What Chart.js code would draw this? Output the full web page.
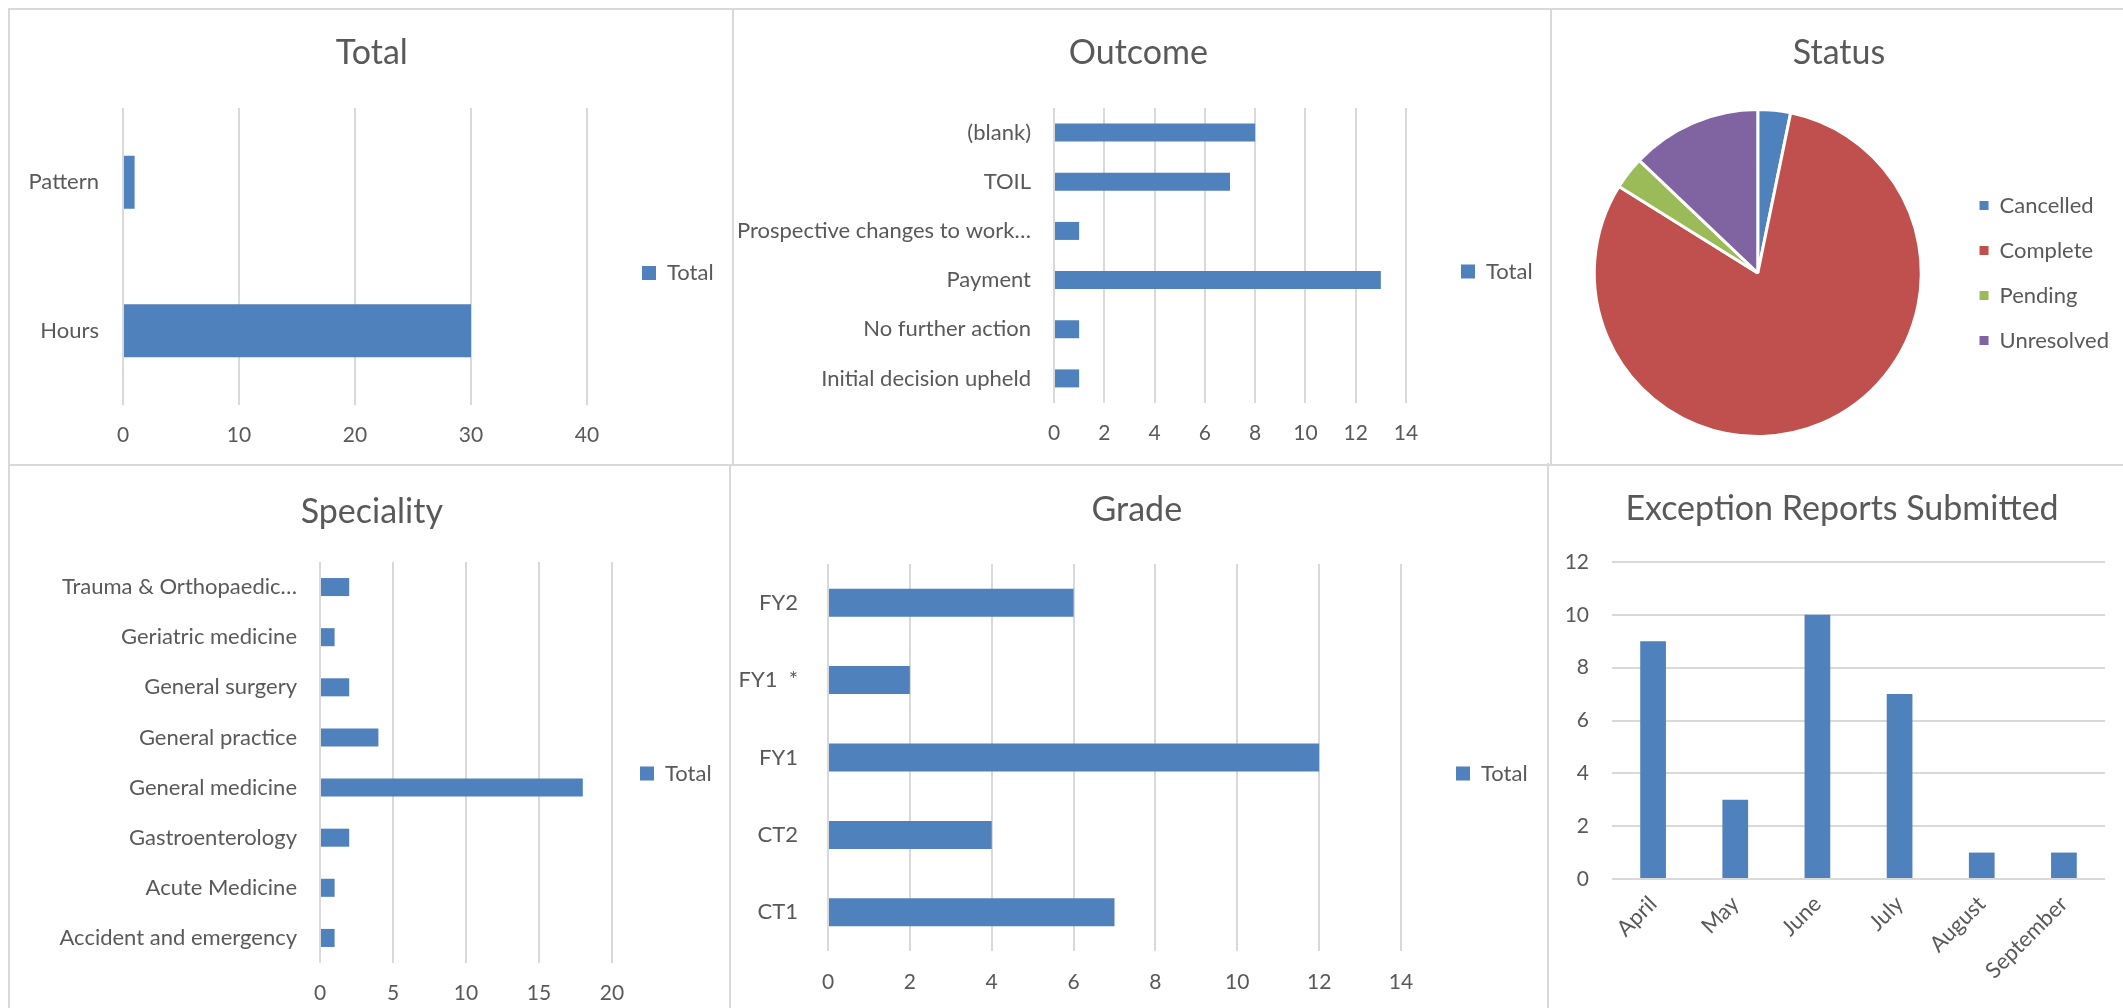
<!DOCTYPE html>
<html>
<head>
<meta charset="utf-8">
<script src="https://cdn.jsdelivr.net/npm/chart.js@4.4.1/dist/chart.umd.min.js"></script>
<style>
  html, body { margin: 0; padding: 0; background: #ffffff; width: 2123px; height: 1008px; overflow: hidden; position: relative; font-family: Lato, sans-serif; }
  canvas { position: absolute; }
  .ln { position: absolute; background: #d9d9d9; }
</style>
</head>
<body>
<div class="ln" style="left:8px;top:8px;width:2115px;height:2px"></div>
<div class="ln" style="left:8px;top:8px;width:2px;height:1000px"></div>
<div class="ln" style="left:732px;top:8px;width:2px;height:457px"></div>
<div class="ln" style="left:1550px;top:8px;width:2px;height:456px"></div>
<div class="ln" style="left:8px;top:464px;width:2115px;height:2px"></div>
<div class="ln" style="left:729px;top:465px;width:2px;height:543px"></div>
<div class="ln" style="left:1547px;top:463px;width:2px;height:545px"></div>
<script>
// ---------------- data ----------------
const totalCategories = ['Hours', 'Pattern'];
const totalValues = [30, 1];

const outcomeCategories = ['Initial decision upheld', 'No further action', 'Payment', 'Prospective changes to work…', 'TOIL', '(blank)'];
const outcomeValues = [1, 1, 13, 1, 7, 8];

const statusLabels = ['Cancelled', 'Complete', 'Pending', 'Unresolved'];
const statusValues = [1, 25, 1, 4];

const specialityCategories = ['Accident and emergency', 'Acute Medicine', 'Gastroenterology', 'General medicine', 'General practice', 'General surgery', 'Geriatric medicine', 'Trauma & Orthopaedic…'];
const specialityValues = [1, 1, 2, 18, 4, 2, 1, 2];

const gradeCategories = ['CT1', 'CT2', 'FY1', 'FY1  *', 'FY2'];
const gradeValues = [7, 4, 12, 2, 6];

const months = ['April', 'May', 'June', 'July', 'August', 'September'];
const reportsValues = [9, 3, 10, 7, 1, 1];

const seriesName = 'Total';

// axis ranges (tick labels)
const totalAxis = { max: 40, step: 10 };
const outcomeAxis = { max: 14, step: 2 };
const specialityAxis = { max: 20, step: 5 };
const gradeAxis = { max: 14, step: 2 };
const reportsAxis = { max: 12, step: 2 };

// ---------------- styles ----------------
const FONT = 'Lato, "Open Sans", sans-serif';
const TXT = '#595959';
const GRID = '#d9d9d9';
const BLUE = '#4f81bd';
const PIE_COLORS = ['#4f81bd', '#c0504d', '#9bbb59', '#8064a2'];
const TITLE_SIZE = 34, LABEL_SIZE = 22, TICK_SIZE = 21;
const TITLE_LH = TITLE_SIZE * 1.2;

Chart.defaults.font.family = FONT;
Chart.defaults.color = TXT;

const mctx = document.createElement('canvas').getContext('2d');
function textW(str, size) { mctx.font = size + 'px ' + FONT; return mctx.measureText(str).width; }

function addCanvas(x, y, w, h) {
  const c = document.createElement('canvas');
  c.width = w; c.height = h;
  c.style.left = x + 'px'; c.style.top = y + 'px';
  c.style.width = w + 'px'; c.style.height = h + 'px';
  document.body.appendChild(c);
  return c;
}

function titleOpts(text, tb) {
  return { display: true, text: text, color: TXT,
    font: { size: TITLE_SIZE, weight: 'normal', family: FONT, lineHeight: 1.2 },
    padding: { top: 0, bottom: tb } };
}

// geometry for the horizontal bar panels (page pixels)
function hBarChart(title, labels, values, axis, g) {
  const labelPad = g.boxX - g.plotRight;
  const NW = labelPad + 14 + LABEL_SIZE / 2 + textW(seriesName, LABEL_SIZE) + 10;
  const maxLab = Math.max.apply(null, labels.map(function (l) { return textW(l, LABEL_SIZE); }));
  const labelsLeft = g.labelRight - maxLab - 2;
  const cx0 = Math.floor(Math.min(2 * g.titleX - g.plotRight - NW, labelsLeft));
  const W = Math.ceil(g.plotRight + NW - cx0) + 1;
  const pr = W - (g.plotRight - cx0) - NW;
  const yW = g.plotLeft - cx0;
  const ct = Math.round(g.titleY - TITLE_LH / 2);
  const ch = Math.round(2 * (g.legendY - ct));
  const tb = g.plotTop - ct - TITLE_LH;
  const xH = ct + ch - g.plotBottom;
  const canvas = addCanvas(cx0, ct, W, ch);
  return new Chart(canvas, {
    type: 'bar',
    data: { labels: labels, datasets: [{ label: seriesName, data: values, backgroundColor: BLUE, borderWidth: 0,
      barPercentage: g.barPct, categoryPercentage: 1 }] },
    options: {
      indexAxis: 'y', responsive: false, animation: false, devicePixelRatio: 1, events: [],
      layout: { padding: { left: 0, right: pr, top: 0, bottom: 0 } },
      plugins: {
        title: titleOpts(title, tb),
        legend: { position: 'right', align: 'center', fullSize: true,
          labels: { boxWidth: 14, boxHeight: 14, padding: labelPad, color: TXT, font: { size: LABEL_SIZE } } },
        tooltip: { enabled: false }
      },
      scales: {
        x: { min: 0, max: axis.max,
          afterFit: function (s) { s.height = xH; },
          ticks: { stepSize: axis.step, color: TXT, font: { size: TICK_SIZE }, padding: g.tickY - g.plotBottom - TICK_SIZE * 0.6, maxRotation: 0, autoSkip: false },
          grid: { color: GRID, lineWidth: 2, drawTicks: false }, border: { display: false } },
        y: { reverse: true,
          afterFit: function (s) { s.width = yW; },
          ticks: { color: TXT, font: { size: LABEL_SIZE }, padding: g.plotLeft - g.labelRight, autoSkip: false },
          grid: { display: false, drawTicks: false }, border: { display: false } }
      }
    }
  });
}

hBarChart('Total', totalCategories, totalValues, totalAxis,
  { titleX: 372, titleY: 53, legendY: 273, boxX: 642, plotLeft: 123, plotRight: 587, plotTop: 108, plotBottom: 405, tickY: 435, labelRight: 99, barPct: 0.357 });

hBarChart('Outcome', outcomeCategories, outcomeValues, outcomeAxis,
  { titleX: 1144, titleY: 53, legendY: 271.5, boxX: 1461, plotLeft: 1054, plotRight: 1406, plotTop: 108, plotBottom: 403, tickY: 433, labelRight: 1031, barPct: 0.366 });

hBarChart('Speciality', specialityCategories, specialityValues, specialityAxis,
  { titleX: 372, titleY: 512, legendY: 773.5, boxX: 640, plotLeft: 320, plotRight: 612, plotTop: 562, plotBottom: 963, tickY: 993, labelRight: 297, barPct: 0.36 });

hBarChart('Grade', gradeCategories, gradeValues, gradeAxis,
  { titleX: 1140, titleY: 510, legendY: 773.5, boxX: 1456, plotLeft: 828, plotRight: 1401, plotTop: 564, plotBottom: 951, tickY: 982.5, labelRight: 798, barPct: 0.362 });

// ---------------- pie: Status ----------------
(function () {
  const ct = Math.round(53 - TITLE_LH / 2);
  const areaTop = 103, areaBottom = 443;
  const canvas = addCanvas(1552, ct, 571, areaBottom - ct);
  const base = (Chart.overrides.pie || Chart.overrides.doughnut).plugins.legend.labels.generateLabels;
  new Chart(canvas, {
    type: 'pie',
    data: { labels: statusLabels, datasets: [{ data: statusValues, backgroundColor: PIE_COLORS, borderColor: '#ffffff', borderWidth: 3, radius: 163.5 }] },
    options: {
      responsive: false, animation: false, devicePixelRatio: 1, events: [],
      layout: { padding: { left: 7, right: 4, top: 0, bottom: 0 } },
      plugins: {
        title: titleOpts('Status', areaTop - ct - TITLE_LH),
        legend: { position: 'right', align: 'center', fullSize: false,
          labels: { boxWidth: 9, boxHeight: 9, padding: 23, color: TXT, font: { size: LABEL_SIZE },
            generateLabels: function (chart) {
              const items = base(chart);
              items.forEach(function (it) { it.lineWidth = 0; it.strokeStyle = 'rgba(0,0,0,0)'; });
              return items;
            } } },
        tooltip: { enabled: false }
      }
    }
  });
})();

// ---------------- column chart: Exception Reports Submitted ----------------
(function () {
  const titleX = 1842;
  const ct = Math.round(509 - TITLE_LH / 2);
  const plotTop = 562, plotBottom = 879, plotLeft = 1612, plotRight = 2105, labelRight = 1589;
  const cx0 = Math.floor(labelRight - textW(String(reportsAxis.max), TICK_SIZE) - 3);
  const cx1 = 2123;
  const rightW = Math.max(0, 2 * titleX - cx0 - plotRight);
  const pr = cx1 - plotRight - rightW;
  const canvas = addCanvas(cx0, ct, cx1 - cx0, 1008 - ct);
  new Chart(canvas, {
    type: 'bar',
    data: { labels: months, datasets: [{ label: seriesName, data: reportsValues, backgroundColor: BLUE, borderWidth: 0, barPercentage: 0.313, categoryPercentage: 1 }] },
    options: {
      responsive: false, animation: false, devicePixelRatio: 1, events: [],
      layout: { padding: { left: 0, right: pr, top: 0, bottom: 0 } },
      plugins: {
        title: titleOpts('Exception Reports Submitted', plotTop - ct - TITLE_LH),
        legend: { display: false },
        tooltip: { enabled: false }
      },
      scales: {
        x: { afterFit: function (s) { s.height = 1008 - plotBottom; },
          ticks: { color: TXT, font: { size: LABEL_SIZE }, minRotation: 45, maxRotation: 45, padding: 12, autoSkip: false },
          grid: { display: false, drawTicks: false }, border: { display: false } },
        y: { min: 0, max: reportsAxis.max,
          afterFit: function (s) { s.width = plotLeft - cx0; },
          ticks: { stepSize: reportsAxis.step, color: TXT, font: { size: TICK_SIZE }, padding: plotLeft - labelRight },
          grid: { color: GRID, lineWidth: 2, drawTicks: false }, border: { display: false } },
        yr: { position: 'right', display: true,
          afterFit: function (s) { s.width = rightW; },
          ticks: { display: false }, grid: { display: false, drawTicks: false }, border: { display: false } }
      }
    }
  });
})();
</script>
</body>
</html>
